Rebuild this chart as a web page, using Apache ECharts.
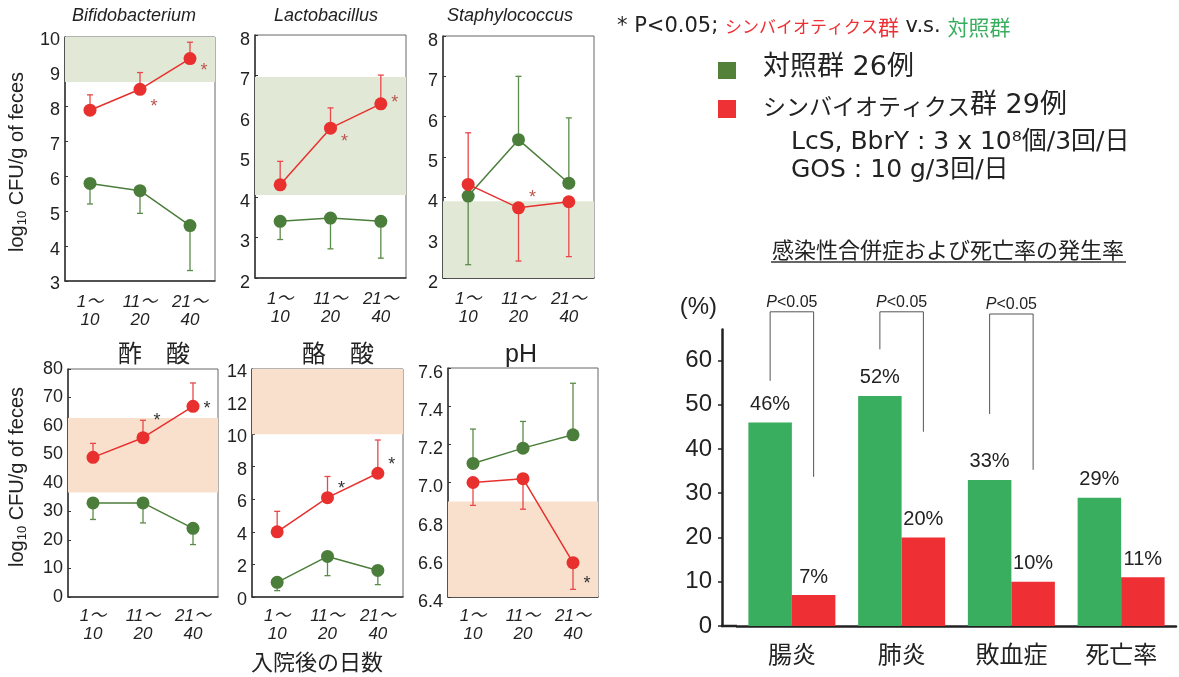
<!DOCTYPE html>
<html>
<head>
<meta charset="utf-8">
<script src="https://cdn.jsdelivr.net/npm/echarts@6/dist/echarts.min.js"></script>
<style>
  html, body { margin: 0; padding: 0; background: #fff; }
  #chart { width: 1179px; height: 677px; }
</style>
</head>
<body>
<div id="chart"></div>
<script>
// ---- data -------------------------------------------------------------
const periods = ['1～\n10', '11～\n20', '21～\n40'];

// Bifidobacterium (log10 CFU/g)
const bifidoSyn = [7.9, 8.5, 9.38];
const bifidoSynErr = [8.34, 8.98, 9.85];
const bifidoCtl = [5.8, 5.59, 4.59];
const bifidoCtlErr = [5.21, 4.94, 3.3];
const bifidoNormal = [8.71, 10];
const bifidoStars = [[1, 8.11], [2, 9.14]];

// Lactobacillus
const lactoSyn = [4.3, 5.7, 6.3];
const lactoSynErr = [4.88, 6.2, 7.01];
const lactoCtl = [3.4, 3.48, 3.4];
const lactoCtlErr = [2.95, 2.72, 2.49];
const lactoNormal = [4.05, 6.96];
const lactoStars = [[1, 5.46], [2, 6.43]];

// Staphylococcus
const staphSyn = [4.32, 3.74, 3.89];
const staphSynErr = [5.6, 2.42, 2.53];
const staphCtl = [4.03, 5.43, 4.35];
const staphCtlErr = [2.33, 7.0, 5.97];
const staphNormal = [2, 3.9];
const staphStars = [[1, 4.07]];

// 酢酸
const aceticSyn = [49.0, 55.9, 66.9];
const aceticSynErr = [53.9, 62.0, 75.1];
const aceticCtl = [33.0, 33.0, 24.1];
const aceticCtlErr = [27.2, 26.0, 18.4];
const aceticNormal = [36.7, 62.8];
const aceticStars = [[1, 63.2], [2, 67.5]];

// 酪酸
const butyricSyn = [4.0, 6.1, 7.6];
const butyricSynErr = [5.26, 7.4, 9.64];
const butyricCtl = [0.9, 2.49, 1.63];
const butyricCtlErr = [0.39, 1.31, 0.76];
const butyricNormal = [10, 14];
const butyricStars = [[1, 6.9], [2, 8.32]];

// pH
const phSyn = [7.0, 7.02, 6.58];
const phSynErr = [6.88, 6.86, 6.44];
const phCtl = [7.1, 7.18, 7.25];
const phCtlErr = [7.28, 7.32, 7.52];
const phNormal = [6.4, 6.9];
const phStars = [[2, 6.49]];

// 感染性合併症および死亡率 (%)
const outcomes = ['腸炎', '肺炎', '敗血症', '死亡率'];
const controlRate = [46, 52, 33, 29];
const synbioticRate = [7, 20, 10, 11];
// [category, bracket top, left leg end, right leg end]
const pBrackets = [[0, 71, 55.4, 33.7], [1, 71, 62.5, 43.9], [2, 70.5, 47.9, 35.3]];

// ---- styles -----------------------------------------------------------
const RED = '#e8302e', GREEN = '#4b7e3a';
const RED_ERR = '#e9474a', GREEN_ERR = '#5b8b4a';
const GREEN_BAND = '#e1e9d6', ORANGE_BAND = '#f9e0cc';
const BAR_GREEN = '#3aae5f', BAR_RED = '#ee3035';
const LATIN = "'Liberation Sans', 'Noto Sans CJK JP', sans-serif";
const JP = "'Noto Sans CJK JP', sans-serif";
const LEGEND_FONT = "'DejaVu Sans', 'Noto Sans CJK JP', sans-serif";

// panel layouts: grid rect, axis range, label drop (px), data
const panels = [
  { rect: [65, 37, 150, 244], range: [3, 10, 1], drop: 3.5, xMargin: 12,
    syn: bifidoSyn, synErr: bifidoSynErr, ctl: bifidoCtl, ctlErr: bifidoCtlErr,
    normal: bifidoNormal, band: GREEN_BAND, stars: bifidoStars, starColor: '#b9554f' },
  { rect: [255, 35, 151, 243], range: [2, 8, 1], drop: 5, xMargin: 12,
    syn: lactoSyn, synErr: lactoSynErr, ctl: lactoCtl, ctlErr: lactoCtlErr,
    normal: lactoNormal, band: GREEN_BAND, stars: lactoStars, starColor: '#b9554f' },
  { rect: [443, 36, 151, 242], range: [2, 8, 1], drop: 5, xMargin: 12,
    syn: staphSyn, synErr: staphSynErr, ctl: staphCtl, ctlErr: staphCtlErr,
    normal: staphNormal, band: GREEN_BAND, stars: staphStars, starColor: '#b9554f' },
  { rect: [68, 369, 150, 228], range: [0, 80, 10], drop: 0, xMargin: 10,
    syn: aceticSyn, synErr: aceticSynErr, ctl: aceticCtl, ctlErr: aceticCtlErr,
    normal: aceticNormal, band: ORANGE_BAND, stars: aceticStars, starColor: '#333' },
  { rect: [252, 369, 151, 228], range: [0, 14, 2], drop: 3, xMargin: 10,
    syn: butyricSyn, synErr: butyricSynErr, ctl: butyricCtl, ctlErr: butyricCtlErr,
    normal: butyricNormal, band: ORANGE_BAND, stars: butyricStars, starColor: '#333' },
  { rect: [448, 368, 150, 229], range: [6.4, 7.6, 0.2], drop: 5, xMargin: 10,
    syn: phSyn, synErr: phSynErr, ctl: phCtl, ctlErr: phCtlErr,
    normal: phNormal, band: ORANGE_BAND, stars: phStars, starColor: '#333' }
];

// ---- render helpers ---------------------------------------------------
function bandItem(params, api) {
  const cs = params.coordSys;
  const y1 = api.coord([0, api.value(1)])[1];
  const y2 = api.coord([0, api.value(2)])[1];
  return { type: 'rect', shape: { x: cs.x, y: Math.min(y1, y2), width: cs.width, height: Math.abs(y1 - y2) },
           style: { fill: api.visual('color') } };
}
function errorBarItem(params, api) {
  const p0 = api.coord([api.value(0), api.value(1)]);
  const p1 = api.coord([api.value(0), api.value(2)]);
  const style = { stroke: api.visual('color'), lineWidth: 1.3 };
  return { type: 'group', children: [
    { type: 'line', shape: { x1: p0[0], y1: p0[1], x2: p1[0], y2: p1[1] }, style },
    { type: 'line', shape: { x1: p1[0] - 3, y1: p1[1], x2: p1[0] + 3, y2: p1[1] }, style }
  ] };
}
function starItem(params, api) {
  const p = api.coord([api.value(0), api.value(1)]);
  return { type: 'text', x: p[0] + 14, y: p[1] + 4,
           style: { text: '*', fontSize: 18, fontFamily: LATIN, fill: api.visual('color'),
                    align: 'center', verticalAlign: 'middle' } };
}

const grids = [], xAxes = [], yAxes = [], series = [];

panels.forEach((pn, i) => {
  const [l, t, w, h] = pn.rect;
  grids.push({ left: l, top: t, width: w, height: h, show: true,
               borderColor: '#666', borderWidth: 1, containLabel: false });
  xAxes.push({ type: 'category', gridIndex: i, data: periods, boundaryGap: true,
    axisLine: { lineStyle: { color: '#333', width: 1.5 } },
    axisTick: { inside: true, length: 3, lineStyle: { color: '#333' } },
    axisLabel: { color: '#222', fontSize: 17, fontStyle: 'italic', fontFamily: LATIN,
                 lineHeight: 18, margin: pn.xMargin, interval: 0 } });
  const yLabel = { color: '#222', fontSize: 18, fontFamily: LATIN, margin: 5,
                   formatter: v => (pn.range[2] < 1 ? v.toFixed(1) : String(v)) };
  if (pn.drop > 0) {
    // labels sit slightly below their tick
    yLabel.verticalAlign = 'top';
    yLabel.lineHeight = pn.drop * 2;
  }
  yAxes.push({ type: 'value', gridIndex: i, min: pn.range[0], max: pn.range[1], interval: pn.range[2],
    splitLine: { show: false },
    axisLine: { show: true, lineStyle: { color: '#333', width: 1.5 } },
    axisTick: { show: true, inside: true, length: 3, lineStyle: { color: '#333' } },
    axisLabel: yLabel });

  series.push({ type: 'custom', xAxisIndex: i, yAxisIndex: i, silent: true, z: 1,
    renderItem: bandItem, itemStyle: { color: pn.band },
    encode: { x: 0, y: [1, 2] }, data: [[0, pn.normal[0], pn.normal[1]]] });
  series.push({ type: 'custom', xAxisIndex: i, yAxisIndex: i, silent: true, z: 3,
    renderItem: errorBarItem, itemStyle: { color: GREEN_ERR }, encode: { x: 0, y: [1, 2] },
    data: pn.ctl.map((v, k) => [k, v, pn.ctlErr[k]]) });
  series.push({ type: 'line', name: '対照群', xAxisIndex: i, yAxisIndex: i, z: 4, data: pn.ctl,
    symbol: 'circle', symbolSize: 13, lineStyle: { color: GREEN, width: 1.5 },
    itemStyle: { color: GREEN } });
  series.push({ type: 'custom', xAxisIndex: i, yAxisIndex: i, silent: true, z: 5,
    renderItem: errorBarItem, itemStyle: { color: RED_ERR }, encode: { x: 0, y: [1, 2] },
    data: pn.syn.map((v, k) => [k, v, pn.synErr[k]]) });
  series.push({ type: 'line', name: 'シンバイオティクス群', xAxisIndex: i, yAxisIndex: i, z: 6, data: pn.syn,
    symbol: 'circle', symbolSize: 13, lineStyle: { color: RED, width: 1.5 },
    itemStyle: { color: RED } });
  series.push({ type: 'custom', xAxisIndex: i, yAxisIndex: i, silent: true, z: 7,
    renderItem: starItem, itemStyle: { color: pn.starColor }, encode: { x: 0, y: 1 },
    data: pn.stars });
});

// ---- incidence bar chart ------------------------------------------------
const BAR_GRID = { left: 737, top: 329.5, right: 3, bottom: 51 };
const Y_OFFSET = 15;
const BAR_W = 43.5;
const bi = panels.length;
grids.push(Object.assign({ containLabel: false }, BAR_GRID));
xAxes.push({ type: 'category', gridIndex: bi, data: outcomes,
  axisLine: { lineStyle: { color: '#222', width: 2.5 } }, axisTick: { show: false },
  axisLabel: { color: '#222', fontSize: 24, fontFamily: JP, margin: 16 } });
const pctTicks = [0, 10, 20, 30, 40, 50, 60];
yAxes.push({ type: 'value', gridIndex: bi, min: 0, max: 67, offset: Y_OFFSET,
  name: '(%)', nameLocation: 'end', nameGap: 22,
  nameTextStyle: { fontSize: 24, color: '#222', fontFamily: LATIN, align: 'right',
                   verticalAlign: 'middle', padding: [0, 5, 0, 0] },
  splitLine: { show: false },
  axisLine: { show: true, lineStyle: { color: '#222', width: 2.5 } },
  axisTick: { show: true, length: 4, customValues: pctTicks, lineStyle: { color: '#222', width: 1.5 } },
  axisLabel: { color: '#222', fontSize: 24, fontFamily: LATIN, margin: 10, customValues: pctTicks } });

const barLabel = { show: true, position: 'top', distance: 8, formatter: '{c}%',
                   fontSize: 20, color: '#222', fontFamily: LATIN };
series.push({ type: 'bar', name: '対照群', xAxisIndex: bi, yAxisIndex: bi, data: controlRate,
  barWidth: BAR_W, barGap: '0%', itemStyle: { color: BAR_GREEN }, label: barLabel });
series.push({ type: 'bar', name: 'シンバイオティクス群', xAxisIndex: bi, yAxisIndex: bi, data: synbioticRate,
  barWidth: BAR_W, barGap: '0%', itemStyle: { color: BAR_RED }, label: barLabel });

function bracketItem(params, api) {
  const top = api.coord([api.value(0), api.value(1)]);
  const yL = api.coord([api.value(0), api.value(2)])[1];
  const yR = api.coord([api.value(0), api.value(3)])[1];
  const xl = top[0] - BAR_W / 2, xr = top[0] + BAR_W / 2;
  return { type: 'group', children: [
    { type: 'polyline', shape: { points: [[xl, yL], [xl, top[1]], [xr, top[1]], [xr, yR]] },
      style: { stroke: '#555', lineWidth: 1, fill: null } },
    { type: 'text', x: top[0], y: top[1] - 9,
      style: { text: '{i|P}{n|<0.05}', align: 'center', verticalAlign: 'middle',
               rich: { i: { fontSize: 16, fontStyle: 'italic', fontFamily: LATIN, fill: '#222' },
                       n: { fontSize: 16, fontFamily: LATIN, fill: '#222' } } } }
  ] };
}
series.push({ type: 'custom', xAxisIndex: bi, yAxisIndex: bi, silent: true, z: 5,
  renderItem: bracketItem, encode: { x: 0, y: [1, 2, 3] }, data: pBrackets });

// ---- text and annotations ---------------------------------------------
function label(x, y, text, extra) {
  return { type: 'text', x, y, silent: true,
    style: Object.assign({ text, align: 'center', verticalAlign: 'middle', fill: '#222',
                           fontFamily: LATIN, fontSize: 18 }, extra || {}) };
}
const yName = '{a|log}{s|10}{a| CFU/g of feces}';
const yNameRich = { a: { fontSize: 20, fontFamily: LATIN, fill: '#222', lineHeight: 24 },
                    s: { fontSize: 13, fontFamily: LATIN, fill: '#222', lineHeight: 12, verticalAlign: 'bottom' } };

const graphics = [
  label(134, 16, 'Bifidobacterium', { fontStyle: 'italic', fontSize: 18 }),
  label(326, 16, 'Lactobacillus', { fontStyle: 'italic', fontSize: 18 }),
  label(510, 16, 'Staphylococcus', { fontStyle: 'italic', fontSize: 18 }),
  label(154, 353, '酢　酸', { fontFamily: JP, fontSize: 24 }),
  label(338, 353, '酪　酸', { fontFamily: JP, fontSize: 24 }),
  label(521, 355, 'pH', { fontSize: 25 }),
  Object.assign(label(17, 162, yName, { rich: yNameRich }), { rotation: Math.PI / 2 }),
  Object.assign(label(17, 477, yName, { rich: yNameRich }), { rotation: Math.PI / 2 }),
  label(108, 60, '正常値', { fontFamily: JP, fontSize: 19, fontWeight: 'bold' }),
  label(180, 473, '正常値', { fontFamily: JP, fontSize: 19, fontWeight: 'bold' }),
  label(317, 662, '入院後の日数', { fontFamily: JP, fontSize: 22 }),
  // significance note and group key
  label(617, 27, '{k|* P<0.05; }{r|シンバイオティクス}{rk|群}{k| v.s. }{g|対照群}', {
    align: 'left',
    rich: { k: { fontSize: 21, fontFamily: LEGEND_FONT, fill: '#222' },
            r: { fontSize: 17, fontFamily: JP, fill: '#ee3035' },
            rk: { fontSize: 21, fontFamily: JP, fill: '#ee3035' },
            g: { fontSize: 21, fontFamily: JP, fill: '#3aae5f' } } }),
  { type: 'rect', shape: { x: 718, y: 62, width: 18, height: 17 }, style: { fill: '#548139' }, silent: true },
  { type: 'rect', shape: { x: 718, y: 100, width: 18, height: 18 }, style: { fill: '#ee3135' }, silent: true },
  label(763, 68, '{n|対照群 26例}', { align: 'left',
    rich: { n: { fontSize: 27, fontFamily: LEGEND_FONT, fill: '#222' } } }),
  label(763, 106, '{k|シンバイオティクス}{n|群 29例}', { align: 'left',
    rich: { k: { fontSize: 23, fontFamily: JP, fill: '#222' },
            n: { fontSize: 27, fontFamily: LEGEND_FONT, fill: '#222' } } }),
  label(791, 142, 'LcS, BbrY : 3 x 10⁸個/3回/日', { align: 'left', fontFamily: LEGEND_FONT, fontSize: 25 }),
  label(791, 170, 'GOS : 10 g/3回/日', { align: 'left', fontFamily: LEGEND_FONT, fontSize: 25 }),
  // incidence chart heading
  label(948, 250, '感染性合併症および死亡率の発生率', { fontFamily: JP, fontSize: 22 }),
  { type: 'line', shape: { x1: 771, y1: 262, x2: 1126, y2: 262 }, style: { stroke: '#333', lineWidth: 1.5 }, silent: true },
  // x axis line continued back to the offset y axis
  { type: 'line', silent: true,
    shape: { x1: BAR_GRID.left - Y_OFFSET - 1, y1: 677 - BAR_GRID.bottom, x2: BAR_GRID.left, y2: 677 - BAR_GRID.bottom },
    style: { stroke: '#222', lineWidth: 2.5 } }
];

const chart = echarts.init(document.getElementById('chart'), null, { renderer: 'canvas' });
chart.setOption({
  animation: false,
  backgroundColor: '#fff',
  grid: grids,
  xAxis: xAxes,
  yAxis: yAxes,
  series: series,
  graphic: graphics
});
</script>
</body>
</html>
